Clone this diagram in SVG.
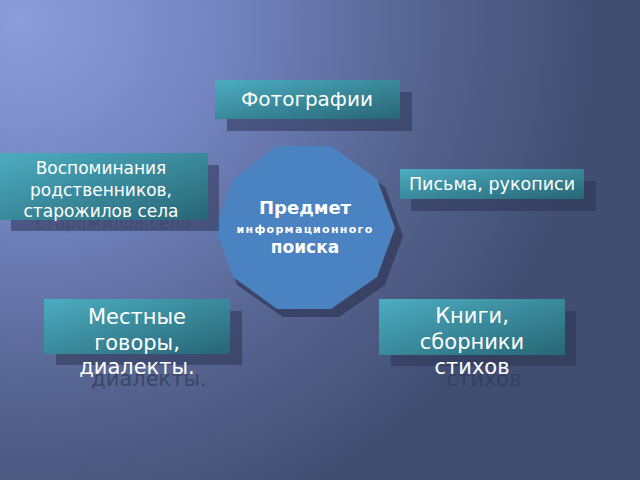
<svg xmlns="http://www.w3.org/2000/svg" width="640" height="480" viewBox="0 0 640 480">
<defs>
<radialGradient id="bg" cx="0" cy="0" r="1" gradientUnits="userSpaceOnUse" gradientTransform="translate(20,20) scale(580,540)">
<stop offset="0" stop-color="#8d9ddc"/>
<stop offset="0.35" stop-color="#7384c0"/>
<stop offset="0.7" stop-color="#55638f"/>
<stop offset="1" stop-color="#414e72"/>
</radialGradient>
<linearGradient id="box" x1="0" y1="0" x2="1" y2="1">
<stop offset="0" stop-color="#4cadc0"/>
<stop offset="1" stop-color="#276676"/>
</linearGradient>
<style>
.sh{fill:#2c3454;fill-opacity:0.55}
.bx{fill:url(#box)}
.t{font-family:"DejaVu Sans",Verdana,sans-serif;fill:#ffffff;text-anchor:middle}
.ts{font-family:"DejaVu Sans",Verdana,sans-serif;fill:#333b5a;text-anchor:middle;fill-opacity:0.75}
.faint{fill-opacity:0.35}
.b{font-weight:bold}
</style>
</defs>
<rect width="640" height="480" fill="url(#bg)"/>

<g id="center">
<polygon points="403,236 385,187 339,155 283,155 237,187 219,236 237,285 283,317 339,317 385,285" fill="#323a5a" fill-opacity="0.75"/>
<polygon points="395,228 377,179 331,146 277,146 233,179 215,228 233,277 277,309 331,309 377,277" fill="#4b82c2"/>
<text class="t b" x="305" y="214" font-size="18">Предмет</text>
<text class="t b" x="305" y="233" font-size="11" letter-spacing="1.3">информационного</text>
<text class="t b" x="305" y="253" font-size="17">поиска</text>
</g>

<g id="foto">
<rect class="sh" x="227" y="92" width="185" height="39"/>
<rect class="bx" x="215" y="80" width="185" height="39"/>
<text class="t" x="307" y="106" font-size="20">Фотографии</text>
</g>

<g id="vospom">
<rect class="sh" x="11" y="165" width="208" height="66"/>
<text class="ts faint" x="113" y="229" font-size="17">старожилов села</text>
<rect class="bx" x="0" y="153" width="208" height="67"/>
<text class="t" x="101" y="174" font-size="17">Воспоминания</text>
<text class="t" x="101" y="196" font-size="17">родственников,</text>
<text class="t" x="101" y="217" font-size="17">старожилов села</text>
</g>

<g id="pisma">
<rect class="sh" x="411" y="181" width="185" height="30"/>
<rect class="bx" x="400" y="169" width="184" height="30"/>
<text class="t" x="492" y="190" font-size="17.5">Письма, рукописи</text>
</g>

<g id="mestnye">
<rect class="sh" x="56" y="311" width="186" height="54"/>
<text class="ts" x="149" y="386" font-size="21">диалекты.</text>
<rect class="bx" x="44" y="299" width="186" height="55"/>
<text class="t" x="137" y="324" font-size="21">Местные</text>
<text class="t" x="137" y="350" font-size="21">говоры,</text>
<text class="t" x="137" y="374" font-size="21">диалекты.</text>
</g>

<g id="knigi">
<rect class="sh" x="391" y="311" width="185" height="55"/>
<text class="ts" x="484" y="386" font-size="21">стихов</text>
<rect class="bx" x="379" y="299" width="186" height="56"/>
<text class="t" x="472" y="323" font-size="21">Книги,</text>
<text class="t" x="472" y="349" font-size="21">сборники</text>
<text class="t" x="472" y="374" font-size="21">стихов</text>
</g>

<g id="connectors"></g>
</svg>
